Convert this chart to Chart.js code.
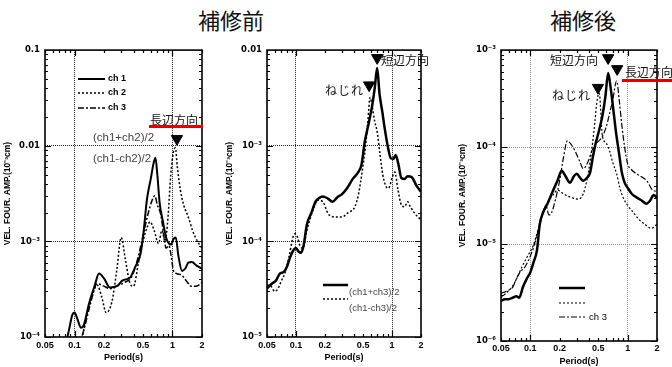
<!DOCTYPE html>
<html>
<head>
<meta charset="utf-8">
<script src="https://cdn.jsdelivr.net/npm/chart.js@4.4.0/dist/chart.umd.min.js"></script>
<style>
  body { margin: 0; background: #fff; width: 672px; height: 367px; overflow: hidden; position: relative; }
  canvas { position: absolute; }
  .t { position: absolute; white-space: nowrap; line-height: 1; transform: translateY(-50%);
       font-family: "Noto Sans CJK JP", sans-serif; font-size: 12px; color: #111; }
  .c { font-family: "Liberation Sans", Arial, sans-serif; font-size: 11.5px; color: #444; }
  .red { position: absolute; height: 3px; background: #e00000; }
  .title { position: absolute; top: 8px; font-family: "Noto Sans CJK JP", sans-serif; font-size: 22px;
           width: 120px; text-align: center; line-height: 1; color: #111; }
</style>
</head>
<body>
<div class="title" style="left:171px">補修前</div>
<div class="title" style="left:523px">補修後</div>

<canvas id="p1"></canvas>
<canvas id="p2"></canvas>
<canvas id="p3"></canvas>

<div class="t" style="left:150px;top:120px">長辺方向</div>
<div class="red" style="left:149px;top:125px;width:54px"></div>
<div class="t c" style="left:93px;top:138px">(ch1+ch2)/2</div>
<div class="t c" style="left:93px;top:159px">(ch1-ch2)/2</div>

<div class="t" style="left:381px;top:60px">短辺方向</div>
<div class="t" style="left:325px;top:90px;letter-spacing:1px">ねじれ</div>

<div class="t" style="left:550px;top:60px">短辺方向</div>
<div class="t" style="left:625px;top:72px">長辺方向</div>
<div class="red" style="left:622px;top:79px;width:50px"></div>
<div class="t" style="left:552px;top:95px;letter-spacing:1px">ねじれ</div>

<script>
// x axis: period (s)
const xTicks = [0.05, 0.1, 0.2, 0.5, 1, 2];
const xTickLabels = ["0.05", "0.1", "0.2", "0.5", "1", "2"];

// 補修前 (left panel): ch 1 / ch 2 / ch 3
const p1Ch1Period = [0.05, 0.08, 0.088, 0.095, 0.1, 0.108, 0.116, 0.125, 0.14, 0.16, 0.178, 0.2, 0.23, 0.27, 0.31, 0.37, 0.42, 0.47, 0.5, 0.55, 0.6, 0.64, 0.67, 0.7, 0.74, 0.8, 0.86, 0.92, 0.97, 1.02, 1.08, 1.15, 1.25, 1.35, 1.45, 1.58, 1.75, 2];
const p1Ch1 = [6e-5, 8e-5, 1.2e-4, 1.7e-4, 1.8e-4, 1.5e-4, 1.25e-4, 1.35e-4, 2.2e-4, 3.4e-4, 4.6e-4, 4.1e-4, 3.3e-4, 3.4e-4, 3.9e-4, 4.2e-4, 5.5e-4, 7.3e-4, 1.1e-3, 2.8e-3, 4.5e-3, 6.5e-3, 7.5e-3, 5e-3, 2.5e-3, 1.6e-3, 1.1e-3, 9.5e-4, 9.3e-4, 1.05e-3, 1.1e-3, 7e-4, 4.9e-4, 5.2e-4, 6e-4, 6.1e-4, 5.6e-4, 5.2e-4];
const p1Ch2Period = [0.1, 0.115, 0.13, 0.15, 0.17, 0.19, 0.21, 0.24, 0.27, 0.3, 0.33, 0.37, 0.4, 0.45, 0.5, 0.55, 0.59, 0.65, 0.72, 0.78, 0.84, 0.9, 0.96, 1.02, 1.07, 1.12, 1.2, 1.3, 1.45, 1.6, 1.8, 2];
const p1Ch2 = [5e-5, 8e-5, 1.5e-4, 2.6e-4, 3.5e-4, 2.6e-4, 1.8e-4, 2.3e-4, 5e-4, 1.1e-3, 6.5e-4, 3.6e-4, 3.4e-4, 6e-4, 1e-3, 1.4e-3, 1.6e-3, 1.3e-3, 9.5e-4, 1.3e-3, 1e-3, 1.8e-3, 5e-3, 8.5e-3, 9.5e-3, 6e-3, 3.5e-3, 2.4e-3, 1.8e-3, 1.3e-3, 1e-3, 8.5e-4];
const p1Ch3Period = [0.1, 0.11, 0.125, 0.145, 0.17, 0.2, 0.23, 0.27, 0.32, 0.38, 0.44, 0.5, 0.56, 0.62, 0.66, 0.7, 0.76, 0.82, 0.86, 0.92, 0.97, 1.02, 1.1, 1.25, 1.4, 1.55, 1.75, 2];
const p1Ch3 = [6e-5, 8e-5, 1.2e-4, 2.2e-4, 3.6e-4, 3.4e-4, 3.2e-4, 3.4e-4, 3.7e-4, 4.2e-4, 6.5e-4, 1.15e-3, 1.9e-3, 2.7e-3, 3e-3, 2.4e-3, 1.9e-3, 1.1e-3, 8.5e-4, 9e-4, 7e-4, 5e-4, 4.6e-4, 4.4e-4, 3.8e-4, 3.4e-4, 3.4e-4, 3.7e-4];
const p1MarkPeriod = [1.11];
const p1MarkAmp = [0.0118];

// 補修前 (middle panel): (ch1+ch3)/2 and (ch1-ch3)/2
const p2SumPeriod = [0.05, 0.056, 0.062, 0.068, 0.075, 0.081, 0.087, 0.093, 0.1, 0.107, 0.113, 0.12, 0.13, 0.145, 0.16, 0.175, 0.19, 0.215, 0.24, 0.27, 0.3, 0.34, 0.39, 0.44, 0.48, 0.52, 0.57, 0.62, 0.66, 0.7, 0.74, 0.79, 0.84, 0.9, 0.97, 1.03, 1.09, 1.16, 1.25, 1.35, 1.45, 1.6, 1.8, 2];
const p2Sum = [3.2e-5, 3.6e-5, 3.9e-5, 4.6e-5, 4.8e-5, 5.5e-5, 6.8e-5, 7.9e-5, 8.5e-5, 7.8e-5, 7.6e-5, 9e-5, 1.5e-4, 2e-4, 2.6e-4, 2.85e-4, 2.95e-4, 2.8e-4, 2.6e-4, 2.9e-4, 3.1e-4, 3.6e-4, 4.5e-4, 5.2e-4, 6.3e-4, 1.1e-3, 1.7e-3, 2.6e-3, 4e-3, 6.5e-3, 3.5e-3, 2.3e-3, 1.5e-3, 1e-3, 7.4e-4, 7.3e-4, 8e-4, 6.5e-4, 4.6e-4, 4.5e-4, 4.8e-4, 4.7e-4, 3.8e-4, 3.3e-4];
const p2DiffPeriod = [0.05, 0.055, 0.06, 0.065, 0.07, 0.077, 0.085, 0.093, 0.098, 0.104, 0.11, 0.118, 0.13, 0.15, 0.17, 0.19, 0.22, 0.26, 0.3, 0.35, 0.41, 0.45, 0.49, 0.53, 0.56, 0.59, 0.62, 0.66, 0.7, 0.75, 0.8, 0.86, 0.92, 1.0, 1.07, 1.15, 1.25, 1.35, 1.45, 1.55, 1.7, 1.85, 2];
const p2Diff = [3.5e-5, 3.4e-5, 3e-5, 3.2e-5, 3.8e-5, 4.7e-5, 7e-5, 1.1e-4, 1.2e-4, 1.1e-4, 9e-5, 8.5e-5, 1.3e-4, 2.1e-4, 2.7e-4, 2.6e-4, 1.9e-4, 1.8e-4, 1.8e-4, 2e-4, 2.3e-4, 3.2e-4, 5.5e-4, 1e-3, 1.8e-3, 3.2e-3, 2.6e-3, 1.8e-3, 1.4e-3, 8e-4, 5e-4, 3.8e-4, 3.6e-4, 4.6e-4, 5.3e-4, 3.5e-4, 2.4e-4, 2.3e-4, 2.6e-4, 2.3e-4, 2e-4, 1.8e-4, 1.7e-4];
const p2MarkPeriod = [0.70, 0.577];
const p2MarkAmp = [8.3e-3, 4.3e-3];

// 補修後 (right panel)
const p3Ch1Period = [0.05, 0.055, 0.06, 0.066, 0.072, 0.077, 0.084, 0.092, 0.1, 0.108, 0.117, 0.125, 0.135, 0.15, 0.17, 0.19, 0.21, 0.23, 0.255, 0.28, 0.3, 0.325, 0.35, 0.38, 0.41, 0.44, 0.47, 0.51, 0.55, 0.59, 0.63, 0.67, 0.71, 0.76, 0.81, 0.87, 0.93, 1.0, 1.1, 1.25, 1.4, 1.55, 1.7, 1.85, 2];
const p3Ch1 = [2.6e-6, 2.7e-6, 2.7e-6, 2.8e-6, 2.9e-6, 2.8e-6, 3.6e-6, 4.4e-6, 5.1e-6, 6.5e-6, 8.6e-6, 1.6e-5, 2.1e-5, 2.6e-5, 3.5e-5, 4.5e-5, 5.7e-5, 5e-5, 4.3e-5, 5e-5, 5.3e-5, 4.8e-5, 4.5e-5, 4.8e-5, 5.4e-5, 8e-5, 1.1e-4, 1.5e-4, 2.1e-4, 3.3e-4, 5.8e-4, 4e-4, 2.5e-4, 1.4e-4, 9e-5, 5.5e-5, 4.3e-5, 3.8e-5, 3.3e-5, 3e-5, 2.8e-5, 2.6e-5, 2.8e-5, 3.2e-5, 3e-5];
const p3Ch2Period = [0.05, 0.058, 0.066, 0.074, 0.082, 0.093, 0.107, 0.12, 0.136, 0.155, 0.175, 0.19, 0.21, 0.23, 0.27, 0.31, 0.35, 0.38, 0.41, 0.43, 0.46, 0.48, 0.51, 0.55, 0.6, 0.65, 0.7, 0.77, 0.83, 0.9, 1.0, 1.15, 1.3, 1.5, 1.75, 2];
const p3Ch2 = [2.8e-6, 3.2e-6, 3.7e-6, 4.6e-6, 5.8e-6, 7.4e-6, 9.6e-6, 1.4e-5, 2.2e-5, 2.8e-5, 3.3e-5, 3.6e-5, 3.4e-5, 3.2e-5, 3e-5, 2.9e-5, 3.3e-5, 4.5e-5, 7e-5, 9.8e-5, 1.8e-4, 2.8e-4, 3.6e-4, 1.3e-4, 1.1e-4, 9.2e-5, 7e-5, 5.3e-5, 3.8e-5, 3e-5, 2.5e-5, 2.1e-5, 1.8e-5, 1.6e-5, 1.45e-5, 1.6e-5];
const p3Ch3Period = [0.05, 0.058, 0.066, 0.073, 0.078, 0.088, 0.097, 0.107, 0.116, 0.125, 0.135, 0.145, 0.155, 0.165, 0.18, 0.2, 0.22, 0.24, 0.265, 0.29, 0.32, 0.35, 0.39, 0.43, 0.48, 0.54, 0.6, 0.65, 0.7, 0.77, 0.82, 0.87, 0.93, 1.0, 1.1, 1.24, 1.4, 1.57, 1.8, 2];
const p3Ch3 = [3.1e-6, 3.3e-6, 3.6e-6, 4.5e-6, 5.1e-6, 5.8e-6, 7e-6, 9e-6, 1.2e-5, 1.6e-5, 2.1e-5, 2.5e-5, 2e-5, 2.1e-5, 2.8e-5, 4.5e-5, 8e-5, 1.16e-4, 1.05e-4, 9e-5, 7.2e-5, 6e-5, 7e-5, 9.2e-5, 1.1e-4, 1.25e-4, 1.6e-4, 2.2e-4, 3e-4, 4.8e-4, 3e-4, 1.7e-4, 1e-4, 6.7e-5, 5.8e-5, 5.3e-5, 4.9e-5, 4.5e-5, 3.6e-5, 3.5e-5];
const p3MarkPeriod = [0.63, 0.78, 0.495];
const p3MarkAmp = [8.3e-4, 6.4e-4, 4.1e-4];

const SOLID = [], DOT = [2, 2], DASHDOT = [6, 2, 2, 2];
const tickFont = { family: "Liberation Sans, Arial, sans-serif", size: 9, weight: "bold" };
const yTickFont = { family: "DejaVu Sans, Liberation Sans, sans-serif", size: 8.5, weight: "bold" };
const supers = { "3": "³", "4": "⁴", "5": "⁵", "6": "⁶" };
function decadeLabel(v) {
  const e = Math.round(Math.log10(v));
  if (e === -1) return "0.1";
  if (e === -2) return "0.01";
  return "10⁻" + supers[String(-e)];
}

function pts(xs, ys) { return xs.map((x, i) => ({ x: x, y: ys[i] })); }

function line(xs, ys, dash, width) {
  return {
    data: pts(xs, ys), borderColor: "#000", borderWidth: width, borderDash: dash,
    pointRadius: 0, cubicInterpolationMode: "monotone", fill: false
  };
}

function markers(xs, ys) {
  return {
    type: "scatter", data: pts(xs, ys), pointStyle: "triangle", rotation: 180,
    pointRadius: 6.5, backgroundColor: "#000", borderColor: "#000", borderWidth: 1
  };
}

// frame + inward minor ticks on all four sides, and a hand-placed key
const framePlugin = {
  id: "frame",
  afterDraw(chart, args, opts) {
    const { ctx, chartArea: a, scales } = chart;
    ctx.save();
    ctx.strokeStyle = "#000";
    ctx.lineWidth = 1.2;
    ctx.beginPath();
    for (const d of [0.01, 0.1, 1]) {
      for (let m = 1; m <= 9; m++) {
        const v = m * d;
        if (v < 0.05 - 1e-9 || v > 2 + 1e-9) continue;
        const px = Math.round(scales.x.getPixelForValue(v)) + 0.5;
        const len = m === 1 ? 6 : 3;
        ctx.moveTo(px, a.top); ctx.lineTo(px, a.top + len);
        ctx.moveTo(px, a.bottom); ctx.lineTo(px, a.bottom - len);
      }
    }
    const e0 = Math.round(Math.log10(scales.y.min)), e1 = Math.round(Math.log10(scales.y.max));
    for (let e = e0; e < e1; e++) {
      for (let m = 1; m <= 9; m++) {
        const py = Math.round(scales.y.getPixelForValue(m * Math.pow(10, e))) + 0.5;
        const len = m === 1 ? 6 : 3;
        ctx.moveTo(a.left, py); ctx.lineTo(a.left + len, py);
        ctx.moveTo(a.right, py); ctx.lineTo(a.right - len, py);
      }
    }
    ctx.stroke();
    ctx.lineWidth = 1.6;
    ctx.strokeRect(a.left, a.top, a.right - a.left, a.bottom - a.top);

    (opts.items || []).forEach(it => {
      const ds = chart.data.datasets[it.ds];
      ctx.beginPath();
      ctx.setLineDash(ds.borderDash);
      ctx.lineWidth = ds.borderWidth;
      ctx.moveTo(it.x0 - opts.ox, it.y - opts.oy);
      ctx.lineTo(it.x1 - opts.ox, it.y - opts.oy);
      ctx.stroke();
      ctx.setLineDash([]);
      if (it.text) {
        ctx.fillStyle = it.color || "#000";
        ctx.font = it.font;
        ctx.textBaseline = "middle";
        ctx.fillText(it.text, it.tx - opts.ox, it.ty - opts.oy);
      }
    });
    ctx.restore();
  }
};

function makePanel(id, box, area, yMin, yMax, datasets, gridColor, key) {
  const c = document.getElementById(id);
  c.width = box.width; c.height = box.height;
  c.style.left = box.left + "px"; c.style.top = box.top + "px";
  const yTicks = [];
  for (let e = Math.round(Math.log10(yMin)); e <= Math.round(Math.log10(yMax)); e++) yTicks.push(Math.pow(10, e));
  return new Chart(c, {
    type: "line",
    data: { datasets: datasets },
    options: {
      responsive: false,
      animation: false,
      events: [],
      layout: { padding: { top: area.top - box.top, right: box.left + box.width - area.right, left: 0, bottom: 0 } },
      plugins: {
        legend: { display: false },
        tooltip: { enabled: false },
        frame: { items: key, ox: box.left, oy: box.top }
      },
      scales: {
        x: {
          type: "logarithmic", min: 0.05, max: 2,
          afterBuildTicks: s => { s.ticks = xTicks.map(v => ({ value: v })); },
          afterFit: s => { s.height = box.top + box.height - area.bottom; },
          ticks: { autoSkip: false, maxRotation: 0, padding: area.tickPad, font: tickFont, color: "#000",
                   callback: (v, i) => xTickLabels[i] },
          grid: { drawTicks: false, lineWidth: 1,
                  color: ctx => (ctx.tick && (ctx.tick.value === 0.1 || ctx.tick.value === 1)) ? gridColor : "rgba(0,0,0,0)" },
          border: { display: false, dash: [1, 1] },
          title: { display: true, text: "Period(s)", font: tickFont, color: "#000", padding: { top: 0, bottom: area.titlePad } }
        },
        y: {
          type: "logarithmic", min: yMin, max: yMax,
          afterBuildTicks: s => { s.ticks = yTicks.map(v => ({ value: v })); },
          afterFit: s => { s.width = area.left - box.left; },
          ticks: { autoSkip: false, padding: 5, font: yTickFont, color: "#000", callback: v => decadeLabel(v) },
          grid: { drawTicks: false, lineWidth: 1,
                  color: ctx => (ctx.tick && ctx.tick.value > yMin * 1.5 && ctx.tick.value < yMax / 1.5) ? gridColor : "rgba(0,0,0,0)" },
          border: { display: false, dash: [1, 1] },
          title: { display: true, text: "VEL. FOUR. AMP.(10⁻³cm)", font: { family: "Liberation Sans, Arial, sans-serif", size: 8.5, weight: "bold" },
                   color: "#000", padding: { top: area.yTitlePad, bottom: 0 } }
        }
      }
    },
    plugins: [framePlugin]
  });
}

const keyFont = "bold 9px 'Liberation Sans', Arial, sans-serif";
const keyFont2 = "9.5px 'Liberation Sans', Arial, sans-serif";

makePanel("p1", { left: 0, top: 40, width: 222, height: 327 },
  { left: 45, right: 202, top: 46, bottom: 337, tickPad: 3, titlePad: 4, yTitlePad: 3 },
  1e-4, 0.1,
  [line(p1Ch1Period, p1Ch1, SOLID, 2), line(p1Ch2Period, p1Ch2, DOT, 1.5), line(p1Ch3Period, p1Ch3, DASHDOT, 1.5),
   markers(p1MarkPeriod, p1MarkAmp)],
  "#222",
  [{ ds: 0, x0: 78, x1: 105, y: 79, text: "ch 1", tx: 108, ty: 79, font: keyFont },
   { ds: 1, x0: 78, x1: 105, y: 93, text: "ch 2", tx: 108, ty: 93, font: keyFont },
   { ds: 2, x0: 78, x1: 105, y: 108, text: "ch 3", tx: 108, ty: 108, font: keyFont }]);

makePanel("p2", { left: 222, top: 40, width: 233, height: 327 },
  { left: 267, right: 421, top: 47, bottom: 337, tickPad: 3, titlePad: 4, yTitlePad: 3 },
  1e-5, 0.01,
  [line(p2SumPeriod, p2Sum, SOLID, 2.5), line(p2DiffPeriod, p2Diff, DOT, 1.5), markers(p2MarkPeriod, p2MarkAmp)],
  "#222",
  [{ ds: 0, x0: 323, x1: 348, y: 285, text: "(ch1+ch3)/2", tx: 349, ty: 292, font: keyFont2, color: "#444" },
   { ds: 1, x0: 323, x1: 348, y: 299, text: "(ch1-ch3)/2", tx: 349, ty: 308, font: keyFont2, color: "#444" }]);

makePanel("p3", { left: 455, top: 40, width: 217, height: 327 },
  { left: 501, right: 657, top: 49, bottom: 341, tickPad: 2, titlePad: 0, yTitlePad: 3 },
  1e-6, 1e-3,
  [line(p3Ch1Period, p3Ch1, SOLID, 2.5), line(p3Ch2Period, p3Ch2, DOT, 1.2), line(p3Ch3Period, p3Ch3, DASHDOT, 1.2),
   markers(p3MarkPeriod, p3MarkAmp)],
  "#888",
  [{ ds: 0, x0: 559, x1: 585, y: 288 },
   { ds: 1, x0: 559, x1: 585, y: 303 },
   { ds: 2, x0: 559, x1: 585, y: 317, text: "ch 3", tx: 589, ty: 317, font: keyFont2 }]);
</script>
</body>
</html>
